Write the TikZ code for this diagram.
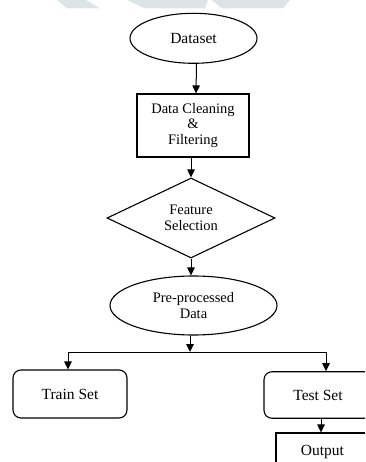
\documentclass[tikz,border=0pt]{standalone}
\usepackage{fontspec}
\setmainfont{Liberation Serif}
\usetikzlibrary{shapes.geometric,arrows.meta}
\definecolor{wmarkcol}{HTML}{DDE4E8}
\begin{document}
\begin{tikzpicture}[x=1pt,y=-1pt,
  flow/.style={draw, line width=1.1pt, inner sep=0pt, text=black},
  oval/.style={flow, ellipse},
  plainbox/.style={flow, rectangle},
  rbox/.style={flow, rectangle, rounded corners=8pt},
  decision/.style={flow, diamond},
  link/.style={line width=1pt, -{Triangle[length=8pt,width=7.5pt]}},
  bigtxt/.style={font=\fontsize{15.5}{16}\selectfont},
  smalltxt/.style={font=\fontsize{14.5}{15.5}\selectfont},
  wmark/.style={fill=wmarkcol, draw=none}]
\useasboundingbox (0,0) rectangle (365,462);
\clip (0,0) rectangle (365,462);
% faint watermark at the top
\fill[wmark] (57,0) -- (86,0) -- (100,8.5) -- (67,8.5) -- cycle;
\fill[wmark] (127,0) -- (208,0) -- (205,8.5) -- (145,8.5) -- cycle;
\fill[wmark] (212,0) -- (290,0) -- (283,8.5) -- (222,8.5) -- cycle;
% nodes
\node[oval, bigtxt, minimum width=127pt, minimum height=50pt] (dataset) at (193.5,38.3) {Dataset};
\node[plainbox, smalltxt, minimum width=112pt, minimum height=63pt, align=center] (clean) at (193,125.5) {Data Cleaning\\\&\\Filtering};
\node[decision, smalltxt, minimum width=168pt, minimum height=80pt, aspect=2.1, align=center] (feat) at (191,218) {Feature\\Selection};
\node[oval, smalltxt, minimum width=167pt, minimum height=59pt, align=center] (pre) at (193.5,305.5) {Pre-processed\\Data};
\node[rbox, bigtxt, minimum width=114pt, minimum height=48pt] (train) at (70,394) {Train Set};
\node[rbox, bigtxt, minimum width=108pt, minimum height=46.5pt] (test) at (318,395) {Test Set};
\node[plainbox, bigtxt, minimum width=93pt, minimum height=38pt] (out) at (322.5,452) {Output};
% connectors
\coordinate (split) at (190,352);
\coordinate (lft) at (68,352);
\coordinate (rgt) at (326,352);
\draw[link] ([xshift=3pt]dataset.south) -- ([xshift=3pt]clean.north);
\draw[link] ([xshift=-2pt]clean.south) -- (feat.north);
\draw[link] (feat.south) -- ([xshift=-2.5pt]pre.north);
\draw[link] ([xshift=-3.5pt]pre.south) -- (split);
\draw[line width=1pt] (lft) -- (rgt);
\draw[link] (lft) -- (lft |- train.north);
\draw[link] (rgt) -- (rgt |- test.north);
\draw[link] ([xshift=-1.5pt]test.south -| out.north) -- ([xshift=-1.5pt]out.north);
\end{tikzpicture}
\end{document}
